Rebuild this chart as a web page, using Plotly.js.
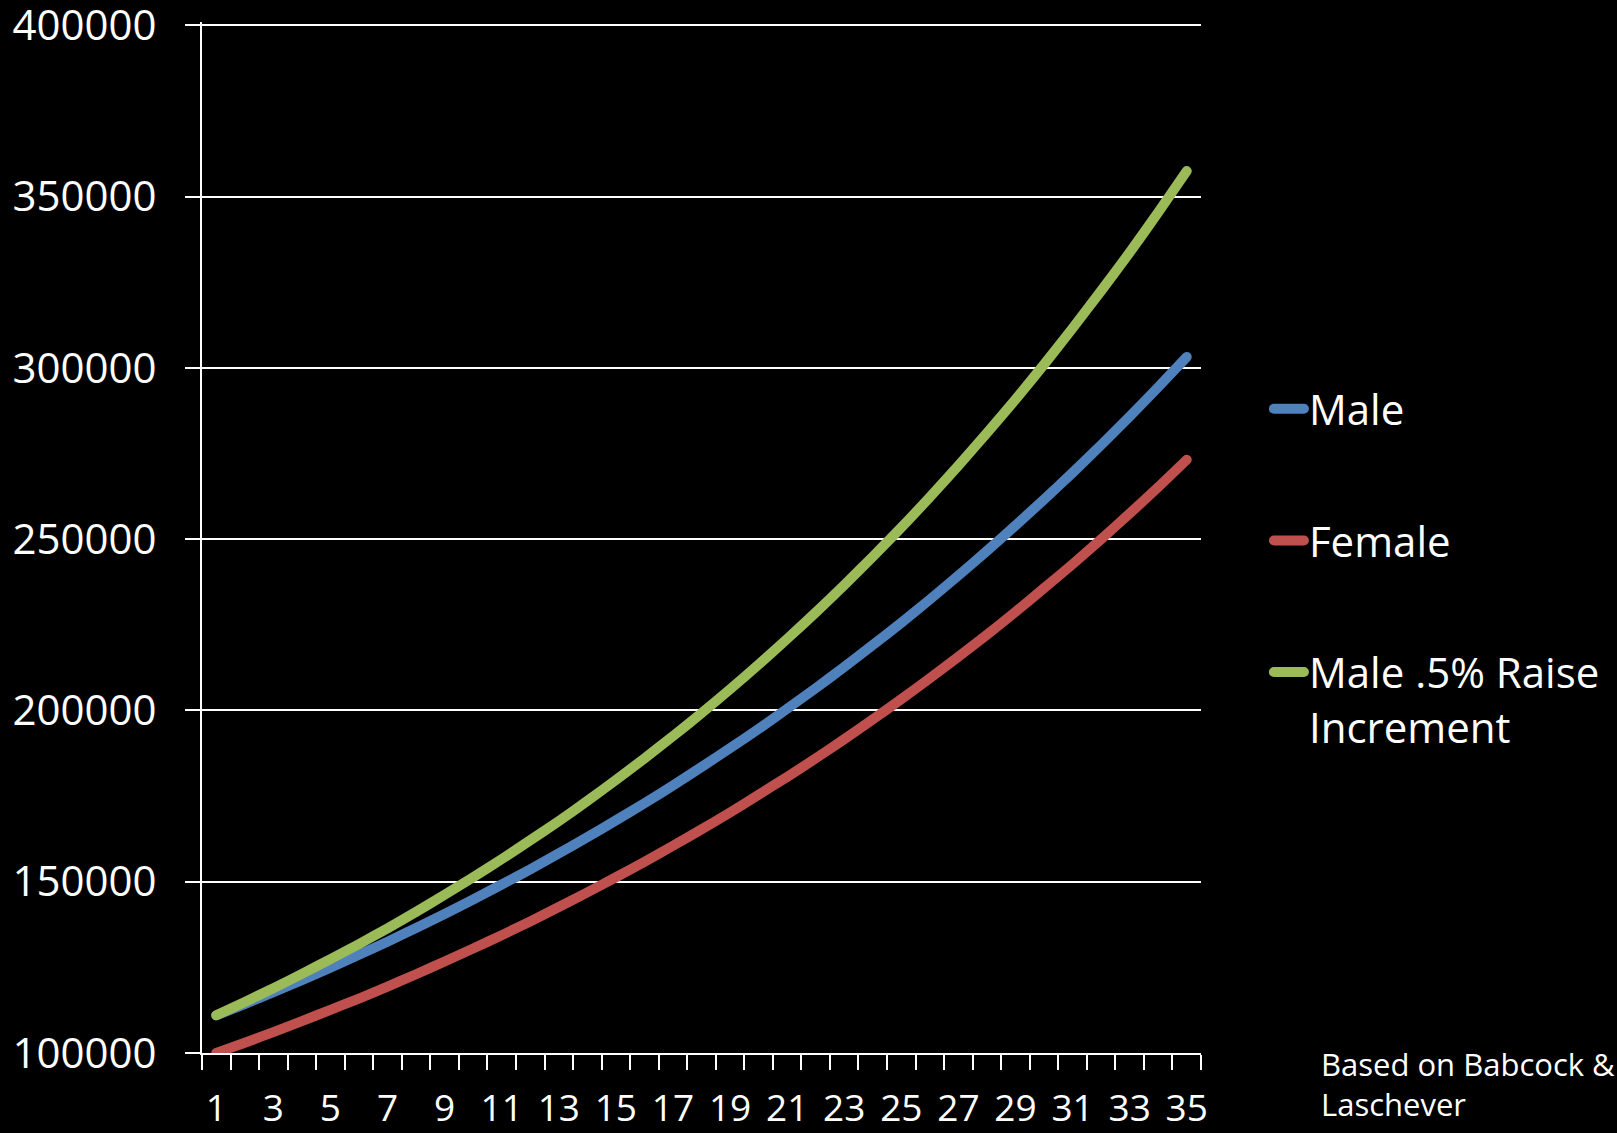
<!DOCTYPE html>
<html>
<head>
<meta charset="utf-8">
<script src="https://cdn.plot.ly/plotly-3.0.1.min.js"></script>
<style>
  html, body { margin: 0; padding: 0; background: #000; }
  #chart { width: 1617px; height: 1133px; }
  .scatterlayer path.js-line { stroke-linecap: round; stroke-linejoin: round; }
  .legendlines path { stroke-linecap: round; }
</style>
</head>
<body>
<div id="chart"></div>
<script>
const years = [1,2,3,4,5,6,7,8,9,10,11,12,13,14,15,16,17,18,19,20,21,22,23,24,25,26,27,28,29,30,31,32,33,34,35];
const xTickVals = [1,3,5,7,9,11,13,15,17,19,21,23,25,27,29,31,33,35];
const xTickText = ["1","3","5","7","9","11","13","15","17","19","21","23","25","27","29","31","33","35"];
const yTickVals = [100000,150000,200000,250000,300000,350000,400000];
const yTickText = ["100000","150000","200000","250000","300000","350000","400000"];

const male = [111000,114300,117800,121300,124900,128700,132500,136500,140600,144800,149200,153600,158300,163000,167900,172900,178100,183500,189000,194600,200500,206500,212700,219100,225600,232400,239400,246600,254000,261600,269400,277500,285800,294400,303200];
const female = [100000,103000,106100,109300,112600,115900,119400,123000,126700,130500,134400,138400,142600,146900,151300,155800,160500,165300,170200,175400,180600,186000,191600,197400,203300,209400,215700,222100,228800,235700,242700,250000,257500,265200,273200];
const maleRaise = [111000,114900,118900,123100,127400,131800,136400,141200,146200,151300,156600,162100,167700,173600,179700,186000,192500,199200,206200,213400,220900,228600,236600,244900,253400,262300,271500,281000,290800,301000,311600,322500,333700,345400,357500];

const seriesNames = ["Male", "Female", "Male .5% Raise<br>Increment"];
const seriesColors = ["#4F81BD", "#C0504D", "#9BBB59"];
const seriesData = [male, female, maleRaise];

const FONT = "'Open Sans', 'Noto Sans', sans-serif";

const traces = seriesData.map((vals, i) => ({
  type: "scatter",
  mode: "lines",
  x: years,
  y: vals,
  name: seriesNames[i],
  legendgroup: "g" + i,
  line: { color: seriesColors[i], width: 10, shape: "spline", smoothing: 0.6 },
  hoverinfo: "x+y"
}));

const layout = {
  width: 1617,
  height: 1133,
  paper_bgcolor: "#000",
  plot_bgcolor: "#000",
  margin: { l: 202, r: 412, t: 22, b: 80, pad: 0 },
  font: { family: FONT, color: "#fff", size: 42 },
  showlegend: true,
  legend: {
    x: 1.068, xanchor: "left",
    y: 0.6576, yanchor: "top",
    bgcolor: "rgba(0,0,0,0)",
    font: { family: FONT, size: 42, color: "#fff" },
    traceorder: "grouped",
    tracegroupgap: 74,
    valign: "top"
  },
  xaxis: {
    type: "linear",
    range: [0.5, 35.5],
    tickmode: "array",
    tickvals: xTickVals,
    ticktext: xTickText,
    ticks: "",
    tickangle: 0,
    ticklabelstandoff: 22,
    tickfont: { family: FONT, size: 37, color: "#fff" },
    showgrid: false,
    zeroline: false,
    showline: true,
    linecolor: "#fff",
    linewidth: 2,
    minor: {
      tickmode: "linear",
      tick0: 0.5,
      dtick: 1,
      ticks: "outside",
      ticklen: 15,
      tickwidth: 2,
      tickcolor: "#fff",
      showgrid: false
    },
    fixedrange: true
  },
  yaxis: {
    range: [100000, 401000],
    tickmode: "array",
    tickvals: yTickVals,
    ticktext: yTickText,
    ticks: "outside",
    ticklen: 15,
    tickwidth: 2,
    tickcolor: "#fff",
    ticklabelstandoff: 20,
    ticklabeloverflow: "allow",
    tickfont: { family: FONT, size: 42, color: "#fff" },
    showgrid: true,
    gridcolor: "#fff",
    gridwidth: 2,
    zeroline: false,
    showline: true,
    linecolor: "#fff",
    linewidth: 2,
    fixedrange: true
  },
  annotations: [{
    xref: "paper", yref: "paper",
    x: 1.1186, y: -0.0296,
    xanchor: "left", yanchor: "middle",
    align: "left",
    showarrow: false,
    text: "Based on Babcock &<br>Laschever",
    font: { family: FONT, size: 31, color: "#fff" }
  }]
};

Plotly.newPlot("chart", traces, layout, { displayModeBar: false, staticPlot: true });
</script>
</body>
</html>
